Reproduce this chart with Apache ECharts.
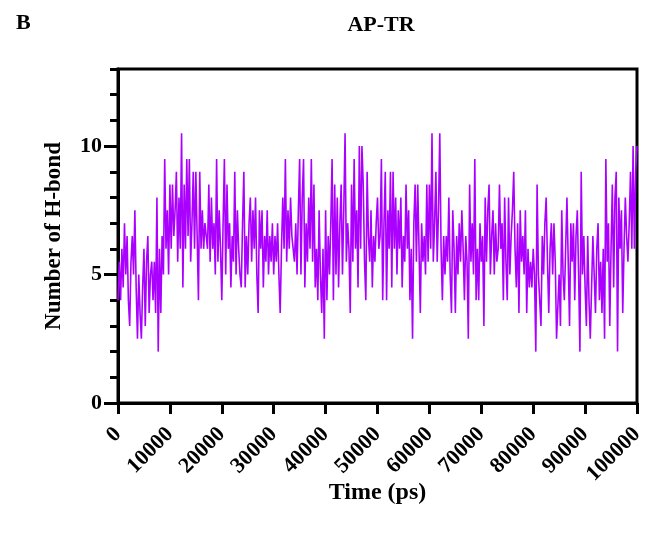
<!DOCTYPE html>
<html>
<head>
<meta charset="utf-8">
<script src="https://cdn.jsdelivr.net/npm/echarts@6/dist/echarts.min.js"></script>
<style>
html,body{margin:0;padding:0;background:#fff;}
#chart{width:657px;height:534px;}
</style>
</head>
<body>
<div id="chart"></div>
<script>
// Time step between samples (ps)
const timeStep = 250;
const xTickValues = [0,10000,20000,30000,40000,50000,60000,70000,80000,90000,100000];
const yLabelValues = [0, 5, 10];

// Number of H-bonds (0 - 17 ns)
const hbondSeg1 = [4,5.5,4,6,4.5,7,5,6.5,4,3,5.5,
  6.5,5,7.5,4.5,2.5,5,3.5,2.5,4.5,6,
  3,5.5,6.5,3.5,5,5.5,4,5.5,3.5,8,
  2,6,3.5,6.5,5,9.5,6,7.5,5,8.5,
  6,8.5,6.5,7.5,9,5.5,8,6,10.5,4.5,
  8.5,6,9.5,6.5,9.5,5.5,7,9,6,9,
  6.5,4,9,6,7.5,6,7,7];
// 17 - 34 ns
const hbondSeg2 = [6,8.5,5.5,8,6,7,5,9.5,5.5,7.5,
  6,4,7,9.5,5,8.5,6,7,4.5,6.5,
  5.5,9,5,7.5,6,5,4.5,7,9,4.5,
  6.5,5,7,8,5.5,7.5,6,8,5,3.5,
  7.5,6,7.5,4.5,6.5,5.5,7.5,5,6.5,5.5,
  7,5,6.5,5.5,7,5,3.5,6,8,6,
  9.5,5.5,7.5,6,8,6.5,6];
// 34 - 51 ns
const hbondSeg3 = [5.5,7,5,7.5,9.5,5,8,9.5,4.5,7,
  5.5,8,6,9.5,5.5,8.5,4.5,6,4,7.5,
  5,3.5,6,2.5,7.5,4,6.5,5,7,9.5,
  4,8.5,5,8,4.5,7,8.5,5,7.5,10.5,
  5.5,7,6,3.5,8.5,5.5,9.5,6,7.5,4.5,
  10,6,10,8.5,5.5,4,9,6.5,5.5,7.5,
  4.5,6.5,5.5,7,8,6,6.5,9.5];
// 51 - 67.5 ns
const hbondSeg4 = [4,7,9,4,7.5,6,9,4.5,9,6,
  8,5,7.5,6,8,4.5,6.5,5.5,8.5,6,
  7.5,4,6,2.5,7,8.5,5.5,8.5,6,3.5,
  7,5.5,6.5,5,8.5,5.5,8.5,6,10.5,5.5,
  7,9,5.5,7.5,10.5,6,4,6.5,5,6.5,
  5.5,8,5,3.5,7.5,6,3.5,6.5,5,7,
  5.5,7.5,6,4,6.5,5.5,2.5];
// 67.5 - 84.5 ns
const hbondSeg5 = [8.5,5.5,7,5,9.5,4,6,4,7,5.5,
  6.5,3,8,5.5,7.5,8.5,5,6.5,7.5,5,
  7,5.5,6,8.5,6,7,4,8,5.5,4,
  8,5,6.5,7.5,9,6,4.5,7,3.5,7.5,
  5.5,6.5,5,7.5,3.5,6,4.5,5.5,4.5,6,
  5,2,8.5,5,4,3,6.5,5,7,8,
  5.5,3.5,6,7,5,7,5.5,2.5];
// 84.5 - 100 ns
const hbondSeg6 = [2.5,5,3,7.5,5,4,6,8,5.5,3,
  7,5.5,7,4,6.5,7.5,5,2,9,5,
  6.5,4.5,3,6.5,4,2.5,2.5,6.5,5,3.5,
  6,7,4,5.5,3.5,6,2.5,9.5,5.5,7,
  3,6,8.5,4.5,8,9,2,8,6,7.5,
  3.5,6,8,6.5,5.5,7,9,6,10,6,
  9,10];

const hbonds = [].concat(hbondSeg1, hbondSeg2, hbondSeg3, hbondSeg4, hbondSeg5, hbondSeg6);
const seriesData = hbonds.map((v, i) => [i * timeStep, v]);

const FONT = '"Liberation Serif", "Times New Roman", serif';
const chart = echarts.init(document.getElementById('chart'), null, {renderer: 'canvas'});

chart.setOption({
  animation: false,
  backgroundColor: '#ffffff',
  title: [
    {text: 'AP-TR', left: 376, top: 9, textAlign: 'center',
     textStyle: {fontFamily: FONT, fontWeight: 'bold', fontSize: 22, color: '#000'}},
    {text: 'B', left: 11, top: 7,
     textStyle: {fontFamily: FONT, fontWeight: 'bold', fontSize: 22, color: '#000'}}
  ],
  grid: {left: 118, right: 20, top: 69, bottom: 131, show: true,
         borderColor: '#000', borderWidth: 3, backgroundColor: 'transparent'},
  xAxis: [
    {
      type: 'value', min: 0, max: 100000, interval: 10000,
      name: 'Time (ps)', nameLocation: 'middle', nameGap: 78, nameMoveOverlap: false,
      nameTextStyle: {fontFamily: FONT, fontWeight: 'bold', fontSize: 24, color: '#000'},
      axisLine: {show: true, onZero: false, lineStyle: {color: '#000', width: 3}},
      axisTick: {show: true, inside: false, length: 11, lineStyle: {color: '#000', width: 3}},
      axisLabel: {rotate: 45, margin: 28, fontFamily: FONT, fontWeight: 'bold', fontSize: 22, color: '#000',
                  formatter: v => String(v)},
      splitLine: {show: false}
    },
    {
      type: 'value', min: 0, max: 100000, position: 'bottom',
      axisLine: {show: false, onZero: false},
      axisTick: {show: true, inside: false, length: 11, customValues: xTickValues,
                 lineStyle: {color: '#000', width: 3}},
      axisLabel: {show: false},
      splitLine: {show: false}
    }
  ],
  yAxis: [
    {
      type: 'value', min: 0, max: 13, interval: 1,
      name: 'Number of H-bond', nameLocation: 'middle', nameGap: 52, nameMoveOverlap: false,
      nameTextStyle: {fontFamily: FONT, fontWeight: 'bold', fontSize: 23, color: '#000'},
      axisLine: {show: true, onZero: false, lineStyle: {color: '#000', width: 3}},
      axisTick: {show: true, length: 8, lineStyle: {color: '#000', width: 3}},
      axisLabel: {show: false},
      splitLine: {show: false}
    },
    {
      type: 'value', min: 0, max: 13, interval: 1, position: 'left',
      axisLine: {show: false},
      axisTick: {show: true, length: 14, customValues: yLabelValues, lineStyle: {color: '#000', width: 3}},
      axisLabel: {show: true, margin: 16, customValues: yLabelValues,
                  fontFamily: FONT, fontWeight: 'bold', fontSize: 22, color: '#000'},
      splitLine: {show: false}
    }
  ],
  series: [{
    type: 'line', xAxisIndex: 0, yAxisIndex: 0, data: seriesData, showSymbol: false, symbol: 'none',
    lineStyle: {color: '#AA00FF', width: 1.6}, z: 1
  }]
});
</script>
</body>
</html>
